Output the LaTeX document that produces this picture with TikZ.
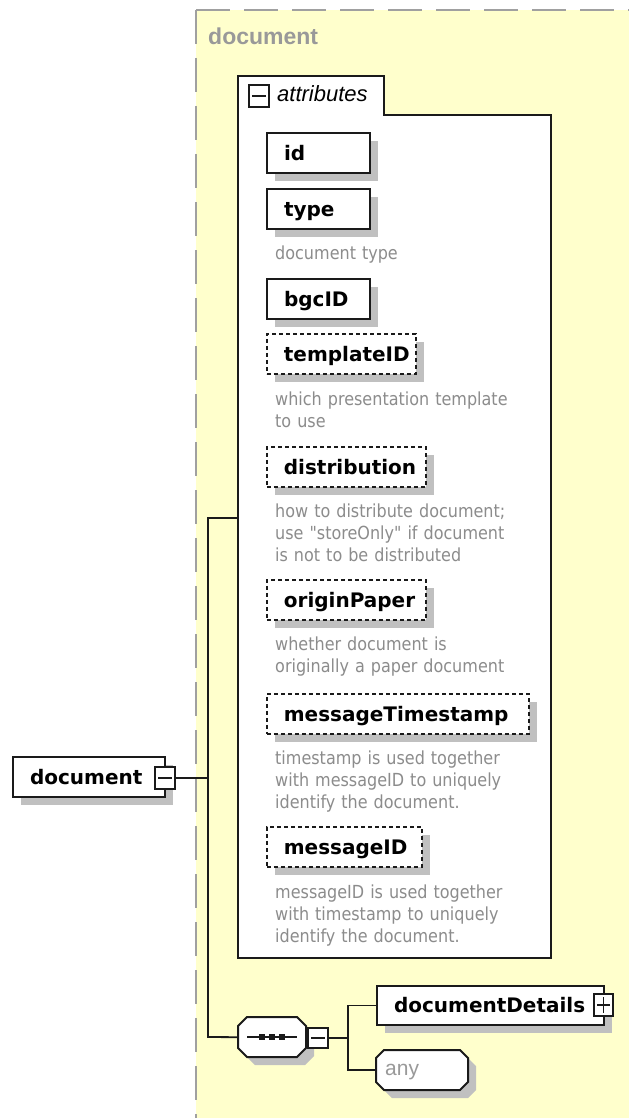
\documentclass[tikz,border=0pt]{standalone}
\usepackage{fontspec}
\setmainfont{DejaVu Sans}
\newfontfamily\descfont[FakeStretch=0.89]{DejaVu Sans}
\newfontfamily\arialfont{Liberation Sans}
\usetikzlibrary{shadows}
\definecolor{yellowc}{HTML}{FFFFCC}
\definecolor{bordc}{HTML}{A0A0A0}
\definecolor{titlec}{HTML}{999999}
\definecolor{descc}{HTML}{8C8C8C}
\definecolor{shadowc}{HTML}{C0C0C0}
\definecolor{linec}{HTML}{1A1A1A}
\begin{document}
\begin{tikzpicture}[x=1pt,y=-1pt,
  elem/.style={draw=linec, line width=2pt, fill=white, anchor=north west,
    inner xsep=17pt, inner ysep=0pt, minimum height=40pt, align=left,
    font=\fontsize{20}{24}\selectfont\bfseries, text height=16pt, text depth=1.4pt,
    drop shadow={shadow xshift=8pt, shadow yshift=-8pt, opacity=1, fill=shadowc}},
  opt/.style={elem, dash pattern=on 4pt off 3pt, line width=1.8pt},
  desc/.style={anchor=base west, inner sep=0pt, text width=270pt, align=left,
    text=descc, font=\descfont\fontsize{18}{22}\selectfont},
  conn/.style={draw=linec, line width=1.8pt},
  pmbox/.style={draw=linec, line width=1.6pt, fill=white, minimum width=20pt,
    minimum height=22pt, inner sep=0pt, anchor=north west},
  pmline/.style={draw=linec, line width=1.6pt},
]
\useasboundingbox (0,0) rectangle (629,1118);
\fill[white] (0,0) rectangle (629,1118);
% yellow area
\fill[yellowc] (196,10) rectangle (629,1118);
\draw[bordc, line width=2.2pt, dash pattern=on 34pt off 14pt] (196,10) -- (196,1118);
\draw[bordc, line width=2.2pt, dash pattern=on 34pt off 14pt] (196,10) -- (629,10);
\node[anchor=base west, inner sep=0pt, text=titlec,
  font=\arialfont\bfseries\fontsize{23}{27}\selectfont] (title) at (208,45) {document};

% attributes box
\draw[draw=linec, line width=2.2pt, fill=white]
  (238,76) -- (384,76) -- (384,115) -- (551,115) -- (551,958) -- (238,958) -- cycle;
\coordinate (attrL) at (238,518);
\node[pmbox] (attrmin) at (248,84) {};
\draw[pmline] ([xshift=4pt]attrmin.west) -- ([xshift=-4pt]attrmin.east);
\node[anchor=base west, inner sep=0pt,
  font=\arialfont\itshape\fontsize{22}{26}\selectfont] (attrlbl) at (277,102) {attributes};

% attributes
\node[elem, text width=69pt] (id) at (266,132) {id};
\node[elem, text width=69pt] (type) at (266,188) {type};
\node[desc] (typeD) at (275,259) {document type};
\node[elem, text width=69pt] (bgc) at (266,278) {bgcID};
\node[opt, text width=115pt] (tpl) at (266,333) {templateID};
\node[desc] (tplD) at (275,405) {which presentation template\\to use};
\node[opt, text width=125pt] (dist) at (266,446) {distribution};
\node[desc] (distD) at (275,517) {how to distribute document;\\use "storeOnly" if document\\is not to be distributed};
\node[opt, text width=125pt] (orig) at (266,579) {originPaper};
\node[desc] (origD) at (275,650) {whether document is\\originally a paper document};
\node[opt, text width=228pt] (mts) at (266,693) {messageTimestamp};
\node[desc] (mtsD) at (275,764) {timestamp is used together\\with messageID to uniquely\\identify the document.};
\node[opt, text width=121pt] (mid) at (266,826) {messageID};
\node[desc] (midD) at (275,898) {messageID is used together\\with timestamp to uniquely\\identify the document.};

% root element
\node[elem, text width=118pt] (doc) at (12,756) {document};
\node[pmbox] (docmin) at (154,766) {};
\draw[pmline] ([xshift=4pt]docmin.west) -- ([xshift=-4pt]docmin.east);

% sequence compositor
\node[minimum width=68pt, minimum height=40pt, anchor=north west, inner sep=0pt] (seq) at (238,1017) {};
\fill[shadowc] (255,1025) -- (305,1025) -- (314,1034) -- (314,1056) -- (305,1065) -- (255,1065) -- (246,1056) -- (246,1034) -- cycle;
\draw[draw=linec, line width=2pt, fill=white]
  (247,1017) -- (297,1017) -- (306,1026) -- (306,1048) -- (297,1057) -- (247,1057) -- (238,1048) -- (238,1026) -- cycle;
\draw[draw=linec, line width=1.8pt] (247,1037) -- (297,1037);
\fill[linec] (259,1034) rectangle (265,1040);
\fill[linec] (269,1034) rectangle (275,1040);
\fill[linec] (279,1034) rectangle (285,1040);
\node[pmbox, minimum height=20pt] (seqmin) at (307,1027) {};
\draw[pmline] ([xshift=4pt]seqmin.west) -- ([xshift=-4pt]seqmin.east);

% connectors
\coordinate (spineTop) at (208,518);
\coordinate (spineBot) at (208,1037);
\draw[conn] (docmin.east) -- (docmin.east -| spineTop);
\draw[conn] (attrL) -- (spineTop) -- (spineBot) -- (seq.west);

% children of sequence
\node[elem, text width=193pt, minimum height=39pt] (dd) at (376,985) {documentDetails};
\node[pmbox, minimum width=19pt] (ddplus) at (593,993) {};
\draw[pmline] ([xshift=4pt]ddplus.west) -- ([xshift=-4pt]ddplus.east);
\draw[pmline] ([yshift=-4pt]ddplus.north) -- ([yshift=4pt]ddplus.south);

\fill[shadowc] (392,1058) -- (468,1058) -- (476,1066) -- (476,1090) -- (468,1098) -- (392,1098) -- (384,1090) -- (384,1066) -- cycle;
\draw[draw=linec, line width=2pt, fill=white]
  (384,1050) -- (460,1050) -- (468,1058) -- (468,1082) -- (460,1090) -- (384,1090) -- (376,1082) -- (376,1058) -- cycle;
\node[minimum width=92pt, minimum height=40pt, anchor=north west, inner xsep=9pt, inner ysep=0pt,
  text width=74pt, align=left, text height=13pt, text depth=2pt, text=titlec,
  font=\arialfont\fontsize{21}{25}\selectfont] (any) at (376,1050) {any};

\draw[conn] (seqmin.east) -- ++(19,0) coordinate (chJ);
\draw[conn] (dd.west) -| (chJ) |- (any.west);
\end{tikzpicture}
\end{document}
